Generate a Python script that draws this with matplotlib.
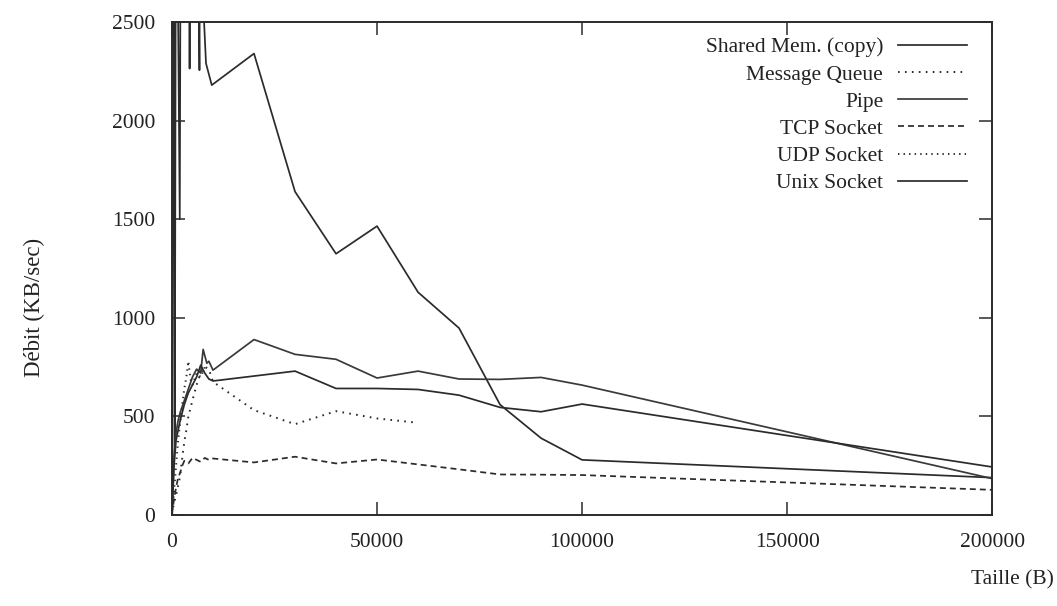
import matplotlib
matplotlib.use("Agg")
import matplotlib.pyplot as plt

plt.rcParams['font.family'] = ['Liberation Serif', 'DejaVu Serif']
plt.rcParams['lines.scale_dashes'] = False

# throughput (KB/sec) against message size (B)
shm_x = [100, 500, 700, 1000, 1900, 2500, 3300, 4300, 5300, 6700, 7000, 7600, 8300, 9700,
         20000, 30000, 40000, 50000, 60000, 70000, 80000, 90000, 100000, 200000]
shm_y = [80, 4200, 350, 3800, 1500, 6000, 5500, 2264, 5500, 2256, 4000, 2600, 2290, 2180,
         2340, 1640, 1325, 1465, 1130, 948, 560, 390, 280, 190]

mq_x = [10, 100, 500, 1000, 1500, 2000, 2500, 3000, 3500, 4000, 5000, 6000, 7000, 8000, 9000, 10000,
        20000, 30000, 40000, 50000, 60000]
mq_y = [5, 20, 60, 100, 150, 200, 290, 370, 430, 500, 583, 660, 720, 752, 740, 676,
        532, 461, 527, 490, 468]

pipe_x = [10, 100, 500, 1000, 1500, 2000, 3000, 4000, 5000, 6000, 7000, 7600, 8500, 9000, 10000,
          20000, 30000, 40000, 50000, 60000, 70000, 80000, 90000, 100000, 200000]
pipe_y = [5, 60, 300, 420, 480, 520, 580, 640, 700, 740, 720, 840, 770, 780, 735,
          890, 815, 790, 695, 730, 690, 688, 698, 659, 185]

tcp_x = [10, 100, 500, 1000, 1500, 2000, 2500, 3000, 4000, 5000, 6000, 7000, 8000, 9000, 10000,
         20000, 30000, 40000, 50000, 60000, 70000, 80000, 90000, 100000, 200000]
tcp_y = [3, 20, 80, 140, 190, 215, 250, 275, 262, 290, 280, 270, 290, 280, 287,
         267, 296, 262, 282, 257, 232, 206, 205, 203, 128]

udp_x = [10, 100, 500, 1000, 1500, 2000, 2500, 3000, 3500, 4000, 4500, 5000, 6000, 7000, 8000]
udp_y = [4, 30, 120, 250, 380, 470, 560, 640, 700, 780, 690, 660, 720, 700, 750]

unix_x = [10, 100, 500, 1000, 1500, 2000, 3000, 4000, 5000, 6000, 7000, 8000, 9000, 10000,
          20000, 30000, 40000, 50000, 60000, 70000, 80000, 90000, 100000, 200000]
unix_y = [4, 40, 250, 380, 430, 480, 560, 620, 660, 700, 760, 720, 690, 680,
          705, 730, 642, 642, 637, 608, 546, 524, 563, 244]

ink = '#2b2b2b'
fig = plt.figure(figsize=(10.57, 6.06), dpi=100)
ax = fig.add_axes([0.1627, 0.150, 0.776, 0.8137])

ax.plot(shm_x, shm_y, color=ink, lw=1.25, label='Shared Mem. (copy)')
ax.plot(mq_x, mq_y, color=ink, lw=1.4, dashes=(1.2, 3.8), label='Message Queue')
ax.plot(pipe_x, pipe_y, color='#3a3a3a', lw=1.25, label='Pipe')
ax.plot(tcp_x, tcp_y, color=ink, lw=1.25, dashes=(4.3, 2.9), label='TCP Socket')
ax.plot(udp_x, udp_y, color=ink, lw=1.4, dashes=(1.0, 3.0), label='UDP Socket')
ax.plot(unix_x, unix_y, color=ink, lw=1.25, label='Unix Socket')

ax.set_xlim(0, 200000)
ax.set_ylim(0, 2500)
ax.set_xticks([0, 50000, 100000, 150000, 200000])
ax.set_yticks([0, 500, 1000, 1500, 2000, 2500])
ax.tick_params(direction='in', length=9.5, width=1.1, color=ink, labelsize=15.5,
               top=True, right=True, labelcolor='#222222')
ax.tick_params(axis='x', pad=13)
ax.tick_params(axis='y', pad=12)
for s in ax.spines.values():
    s.set_linewidth(1.4)
    s.set_color(ink)

fig.text(0.033, 0.492, 'Débit (KB/sec)', rotation=90, ha='center', va='center',
         fontsize=16.5, color='#222222')
fig.text(0.997, 0.043, 'Taille (B)', ha='right', va='center', fontsize=15.5, color='#222222')

ax.legend(loc='upper right', bbox_to_anchor=(0.9695, 0.969), frameon=False,
          markerfirst=False, fontsize=15.5, handlelength=3.2, handletextpad=0.7,
          labelspacing=0.33, borderpad=0, borderaxespad=0, labelcolor='#222222')

fig.savefig('out.png', dpi=100)
